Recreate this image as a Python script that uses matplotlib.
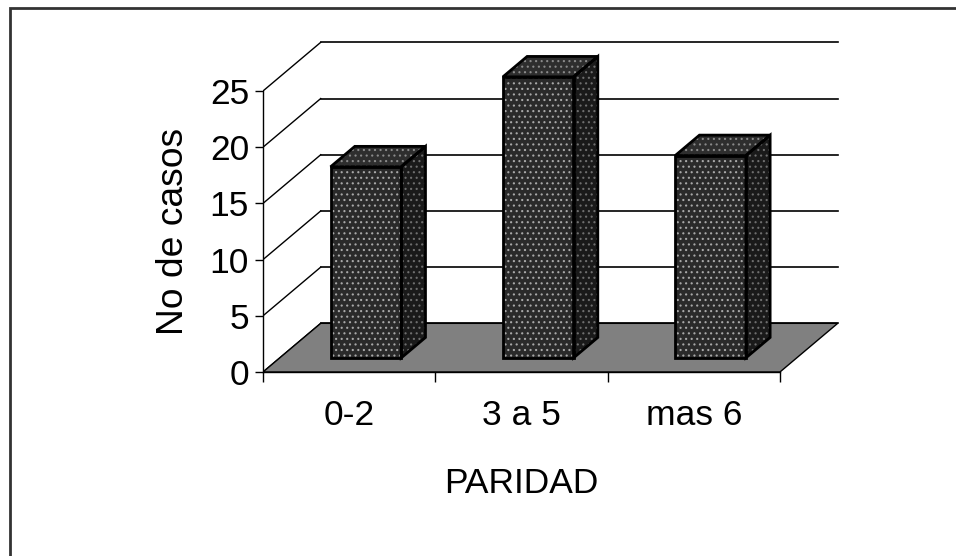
import matplotlib
matplotlib.use('Agg')
import matplotlib.pyplot as plt
from matplotlib.patches import Polygon, Rectangle

# cases per parity group
categorias = ['0-2', '3 a 5', 'mas 6']
casos = [17, 25, 18]
yticks = [0, 5, 10, 15, 20, 25]

# oblique 3d look: depth z in [0, 1] shifts x (categories) and y (values)
DX = 0.335
DY = 4.33
Z0, Z1 = 0.29, 0.71
BAR_W = 0.41

font = ['Liberation Sans', 'DejaVu Sans']
fsize = 25.5

plt.rcParams['hatch.linewidth'] = 0.8


def proj(x, v, z):
    return (x + DX * z, v + DY * z)


def face(ax, verts, fc, dots, zorder):
    ax.add_patch(Polygon(verts, closed=True, facecolor=fc, edgecolor=dots,
                         linewidth=0, hatch='...', zorder=zorder))
    ax.add_patch(Polygon(verts, closed=True, fill=False, edgecolor='black',
                         linewidth=2.0, joinstyle='miter', zorder=zorder + 0.1))


fig = plt.figure(figsize=(9.56, 5.56), dpi=100)
ax = fig.add_axes([263 / 956, 184 / 556, 585.9 / 956, 337.2 / 556])
ax.set_xlim(0, 3.4)
ax.set_ylim(0, 30)
ax.patch.set_visible(False)

n = len(categorias)
ymax = yticks[-1]

# floor
floor = [proj(0, 0, 0), proj(n, 0, 0), proj(n, 0, 1), proj(0, 0, 1)]
ax.add_patch(Polygon(floor, closed=True, facecolor='#808080', edgecolor='black',
                     linewidth=1.0, zorder=1))

# side wall lines and back gridlines
for v in yticks:
    xs, ys = zip(proj(0, v, 0), proj(0, v, 1))
    ax.plot(xs, ys, color='black', lw=1.0, zorder=0.8)
    xs, ys = zip(proj(0, v, 1), proj(n, v, 1))
    ax.plot(xs, ys, color='black', lw=1.2, zorder=0.8)

# bars
for i, val in enumerate(casos):
    x0 = i + 0.5 - BAR_W / 2
    x1 = x0 + BAR_W
    front = [proj(x0, 0, Z0), proj(x1, 0, Z0), proj(x1, val, Z0), proj(x0, val, Z0)]
    side = [proj(x1, 0, Z0), proj(x1, 0, Z1), proj(x1, val, Z1), proj(x1, val, Z0)]
    top = [proj(x0, val, Z0), proj(x1, val, Z0), proj(x1, val, Z1), proj(x0, val, Z1)]
    face(ax, side, '#1a1a1a', '#6e6e6e', 3)
    face(ax, top, '#2e2e2e', '#8a8a8a', 3)
    face(ax, front, '#2a2a2a', '#a8a8a8', 3)

# axes
for s in ['top', 'right']:
    ax.spines[s].set_visible(False)
ax.spines['left'].set_bounds(0, ymax)
ax.spines['bottom'].set_bounds(0, n)
for s in ['left', 'bottom']:
    ax.spines[s].set_linewidth(1.0)
    ax.spines[s].set_zorder(4)

ax.set_yticks(yticks)
ax.set_yticklabels([str(t) for t in yticks], family=font, size=fsize)
ax.tick_params(axis='y', direction='out', length=6, width=1, pad=4)

ax.set_xticks(range(n + 1))
ax.set_xticklabels([])
ax.tick_params(axis='x', which='major', direction='out', length=7, width=1)
ax.set_xticks([i + 0.5 for i in range(n)], minor=True)
ax.set_xticklabels(categorias, minor=True, family=font, size=fsize)
ax.tick_params(axis='x', which='minor', length=0, pad=19.5)

ax.set_xlabel('PARIDAD', family=font, size=fsize)
ax.xaxis.set_label_coords(1.5 / 3.4, -0.283)
ax.set_ylabel('No de casos', family=font, size=26.8)
ax.yaxis.set_label_coords(-0.123, 12.5 / 30)

# outer frame
fig.add_artist(Rectangle((10 / 956, -0.5), 2, 548 / 556 + 0.5, transform=fig.transFigure,
                         fill=False, edgecolor='#333333', linewidth=2.0))

fig.savefig('out.png', dpi=100)
